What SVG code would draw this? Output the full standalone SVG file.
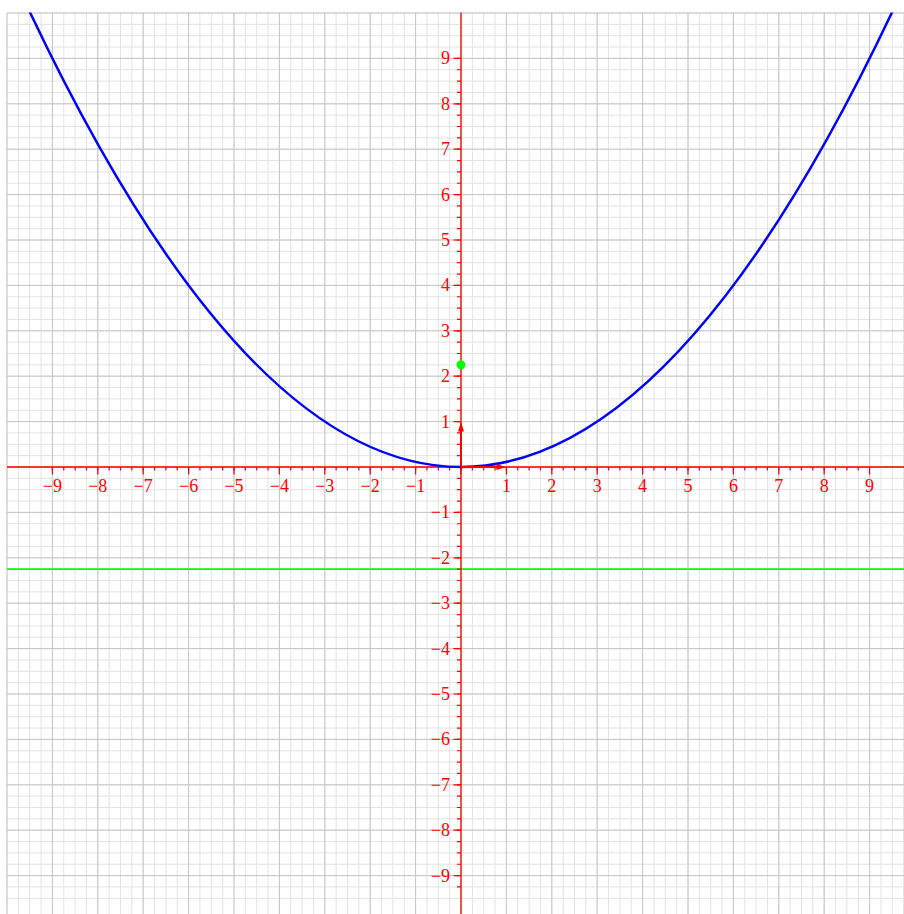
<svg xmlns="http://www.w3.org/2000/svg" width="904" height="914" viewBox="0 0 904 914">
<defs>
<style>
.minor{fill:none;stroke:#e3e3e3;stroke-width:1;vector-effect:non-scaling-stroke}
.major{fill:none;stroke:#c6c6c6;stroke-width:1;vector-effect:non-scaling-stroke}
.axis{fill:none;stroke:#ff0000;stroke-width:1.3}
.tick{fill:none;stroke:#ff0000;stroke-width:1.2;vector-effect:non-scaling-stroke}
.lbl{font-family:"Liberation Serif","Times New Roman",serif;font-size:18px;fill:#ff0000}
.xl{text-anchor:middle}
.yl{text-anchor:end}
.vec{fill:none;stroke:#ff0000;stroke-width:2}
</style>
<clipPath id="plot"><rect x="7" y="12.5" width="910" height="910"/></clipPath>
<marker id="head" viewBox="0 0 10 6" refX="2" refY="3" markerWidth="10" markerHeight="6" markerUnits="userSpaceOnUse" orient="auto">
<path d="M0 0L10 3L0 6z" fill="#ff0000"/>
</marker>
</defs>
<rect width="904" height="914" fill="#ffffff"/>
<g id="grid" transform="translate(461 467) scale(45.4)">
<path class="minor" d="M-10-10v20m.25-20v20m.25-20v20m.25-20v20m.25-20v20m.25-20v20m.25-20v20m.25-20v20m.25-20v20m.25-20v20m.25-20v20m.25-20v20m.25-20v20m.25-20v20m.25-20v20m.25-20v20m.25-20v20m.25-20v20m.25-20v20m.25-20v20m.25-20v20m.25-20v20m.25-20v20m.25-20v20m.25-20v20m.25-20v20m.25-20v20m.25-20v20m.25-20v20m.25-20v20m.25-20v20m.25-20v20m.25-20v20m.25-20v20m.25-20v20m.25-20v20m.25-20v20m.25-20v20m.25-20v20m.25-20v20m.25-20v20m.25-20v20m.25-20v20m.25-20v20m.25-20v20m.25-20v20m.25-20v20m.25-20v20m.25-20v20m.25-20v20m.25-20v20m.25-20v20m.25-20v20m.25-20v20m.25-20v20m.25-20v20m.25-20v20m.25-20v20m.25-20v20m.25-20v20m.25-20v20m.25-20v20m.25-20v20m.25-20v20m.25-20v20m.25-20v20m.25-20v20m.25-20v20m.25-20v20m.25-20v20m.25-20v20m.25-20v20m.25-20v20m.25-20v20m.25-20v20m.25-20v20m.25-20v20m.25-20v20m.25-20v20m.25-20v20m.25-20v20"/>
<path class="minor" d="M-10-10h20m-20 .25h20m-20 .25h20m-20 .25h20m-20 .25h20m-20 .25h20m-20 .25h20m-20 .25h20m-20 .25h20m-20 .25h20m-20 .25h20m-20 .25h20m-20 .25h20m-20 .25h20m-20 .25h20m-20 .25h20m-20 .25h20m-20 .25h20m-20 .25h20m-20 .25h20m-20 .25h20m-20 .25h20m-20 .25h20m-20 .25h20m-20 .25h20m-20 .25h20m-20 .25h20m-20 .25h20m-20 .25h20m-20 .25h20m-20 .25h20m-20 .25h20m-20 .25h20m-20 .25h20m-20 .25h20m-20 .25h20m-20 .25h20m-20 .25h20m-20 .25h20m-20 .25h20m-20 .25h20m-20 .25h20m-20 .25h20m-20 .25h20m-20 .25h20m-20 .25h20m-20 .25h20m-20 .25h20m-20 .25h20m-20 .25h20m-20 .25h20m-20 .25h20m-20 .25h20m-20 .25h20m-20 .25h20m-20 .25h20m-20 .25h20m-20 .25h20m-20 .25h20m-20 .25h20m-20 .25h20m-20 .25h20m-20 .25h20m-20 .25h20m-20 .25h20m-20 .25h20m-20 .25h20m-20 .25h20m-20 .25h20m-20 .25h20m-20 .25h20m-20 .25h20m-20 .25h20m-20 .25h20m-20 .25h20m-20 .25h20m-20 .25h20m-20 .25h20m-20 .25h20"/>
<path class="major" d="M-10-10v20m1-20v20m1-20v20m1-20v20m1-20v20m1-20v20m1-20v20m1-20v20m1-20v20m1-20v20m1-20v20m1-20v20m1-20v20m1-20v20m1-20v20m1-20v20m1-20v20m1-20v20m1-20v20m1-20v20m1-20v20"/>
<path class="major" d="M-10-10h20m-20 1h20m-20 1h20m-20 1h20m-20 1h20m-20 1h20m-20 1h20m-20 1h20m-20 1h20m-20 1h20m-20 1h20m-20 1h20m-20 1h20m-20 1h20m-20 1h20m-20 1h20m-20 1h20m-20 1h20m-20 1h20m-20 1h20m-20 1h20"/>
</g>
<g id="directrix"><line x1="7" y1="569.15" x2="904" y2="569.15" stroke="#00ff00" stroke-width="1.6"/></g>
<g id="axes">
<line class="axis" x1="7" y1="467" x2="904" y2="467"/>
<line class="axis" x1="461" y1="12.5" x2="461" y2="914"/>
<g transform="translate(461 467) scale(45.4 1)">
<path class="tick" d="M-9 0v3.5m.25-3.5v3.5m.25-3.5v3.5m.25-3.5v3.5m.25-3.5v3.5m.25-3.5v3.5m.25-3.5v3.5m.25-3.5v3.5m.25-3.5v3.5m.25-3.5v3.5m.25-3.5v3.5m.25-3.5v3.5m.25-3.5v3.5m.25-3.5v3.5m.25-3.5v3.5m.25-3.5v3.5m.25-3.5v3.5m.25-3.5v3.5m.25-3.5v3.5m.25-3.5v3.5m.25-3.5v3.5m.25-3.5v3.5m.25-3.5v3.5m.25-3.5v3.5m.25-3.5v3.5m.25-3.5v3.5m.25-3.5v3.5m.25-3.5v3.5m.25-3.5v3.5m.25-3.5v3.5m.25-3.5v3.5m.25-3.5v3.5m.25-3.5v3.5m.25-3.5v3.5m.25-3.5v3.5m.25-3.5v3.5m.25-3.5v3.5m.25-3.5v3.5m.25-3.5v3.5m.25-3.5v3.5m.25-3.5v3.5m.25-3.5v3.5m.25-3.5v3.5m.25-3.5v3.5m.25-3.5v3.5m.25-3.5v3.5m.25-3.5v3.5m.25-3.5v3.5m.25-3.5v3.5m.25-3.5v3.5m.25-3.5v3.5m.25-3.5v3.5m.25-3.5v3.5m.25-3.5v3.5m.25-3.5v3.5m.25-3.5v3.5m.25-3.5v3.5m.25-3.5v3.5m.25-3.5v3.5m.25-3.5v3.5m.25-3.5v3.5m.25-3.5v3.5m.25-3.5v3.5m.25-3.5v3.5m.25-3.5v3.5m.25-3.5v3.5m.25-3.5v3.5m.25-3.5v3.5m.25-3.5v3.5m.25-3.5v3.5m.25-3.5v3.5m.25-3.5v3.5"/>
<path class="tick" d="M-9 0v7.5m1-7.5v7.5m1-7.5v7.5m1-7.5v7.5m1-7.5v7.5m1-7.5v7.5m1-7.5v7.5m1-7.5v7.5m1-7.5v7.5m1-7.5v7.5m1-7.5v7.5m1-7.5v7.5m1-7.5v7.5m1-7.5v7.5m1-7.5v7.5m1-7.5v7.5m1-7.5v7.5m1-7.5v7.5m1-7.5v7.5"/>
</g>
<g transform="translate(461 467) scale(1 45.4)">
<path class="tick" d="M0-9h-4m4 .25h-4m4 .25h-4m4 .25h-4m4 .25h-4m4 .25h-4m4 .25h-4m4 .25h-4m4 .25h-4m4 .25h-4m4 .25h-4m4 .25h-4m4 .25h-4m4 .25h-4m4 .25h-4m4 .25h-4m4 .25h-4m4 .25h-4m4 .25h-4m4 .25h-4m4 .25h-4m4 .25h-4m4 .25h-4m4 .25h-4m4 .25h-4m4 .25h-4m4 .25h-4m4 .25h-4m4 .25h-4m4 .25h-4m4 .25h-4m4 .25h-4m4 .25h-4m4 .25h-4m4 .25h-4m4 .25h-4m4 .25h-4m4 .25h-4m4 .25h-4m4 .25h-4m4 .25h-4m4 .25h-4m4 .25h-4m4 .25h-4m4 .25h-4m4 .25h-4m4 .25h-4m4 .25h-4m4 .25h-4m4 .25h-4m4 .25h-4m4 .25h-4m4 .25h-4m4 .25h-4m4 .25h-4m4 .25h-4m4 .25h-4m4 .25h-4m4 .25h-4m4 .25h-4m4 .25h-4m4 .25h-4m4 .25h-4m4 .25h-4m4 .25h-4m4 .25h-4m4 .25h-4m4 .25h-4m4 .25h-4m4 .25h-4m4 .25h-4m4 .25h-4m4 .25h-4m4 .25h-4"/>
<path class="tick" d="M0-9h-7.5m7.5 1h-7.5m7.5 1h-7.5m7.5 1h-7.5m7.5 1h-7.5m7.5 1h-7.5m7.5 1h-7.5m7.5 1h-7.5m7.5 1h-7.5m7.5 1h-7.5m7.5 1h-7.5m7.5 1h-7.5m7.5 1h-7.5m7.5 1h-7.5m7.5 1h-7.5m7.5 1h-7.5m7.5 1h-7.5m7.5 1h-7.5m7.5 1h-7.5"/>
</g>
</g>
<g id="x-labels" class="lbl xl">
<text x="52.4" y="492">−9</text>
<text x="97.8" y="492">−8</text>
<text x="143.2" y="492">−7</text>
<text x="188.6" y="492">−6</text>
<text x="234" y="492">−5</text>
<text x="279.4" y="492">−4</text>
<text x="324.8" y="492">−3</text>
<text x="370.2" y="492">−2</text>
<text x="415.6" y="492">−1</text>
<text x="506.4" y="492">1</text>
<text x="551.8" y="492">2</text>
<text x="597.2" y="492">3</text>
<text x="642.6" y="492">4</text>
<text x="688" y="492">5</text>
<text x="733.4" y="492">6</text>
<text x="778.8" y="492">7</text>
<text x="824.2" y="492">8</text>
<text x="869.6" y="492">9</text>
</g>
<g id="y-labels" class="lbl yl">
<text x="450" y="64.4">9</text>
<text x="450" y="109.8">8</text>
<text x="450" y="155.2">7</text>
<text x="450" y="200.6">6</text>
<text x="450" y="246">5</text>
<text x="450" y="291.4">4</text>
<text x="450" y="336.8">3</text>
<text x="450" y="382.2">2</text>
<text x="450" y="427.6">1</text>
<text x="450" y="518.4">−1</text>
<text x="450" y="563.8">−2</text>
<text x="450" y="609.2">−3</text>
<text x="450" y="654.6">−4</text>
<text x="450" y="700">−5</text>
<text x="450" y="745.4">−6</text>
<text x="450" y="790.8">−7</text>
<text x="450" y="836.2">−8</text>
<text x="450" y="881.6">−9</text>
</g>
<g id="parabola" clip-path="url(#plot)">
<path d="M7 -37.44Q461 971.44 915 -37.44" fill="none" stroke="#0000ff" stroke-width="2.5"/>
</g>
<g id="connectors">
<line class="vec" x1="461" y1="467" x2="498.4" y2="467" marker-end="url(#head)"/>
<line class="vec" x1="461" y1="467" x2="461" y2="429.6" marker-end="url(#head)"/>
</g>
<g id="focus"><circle cx="461" cy="364.85" r="4.5" fill="#00ff00"/></g>
</svg>
